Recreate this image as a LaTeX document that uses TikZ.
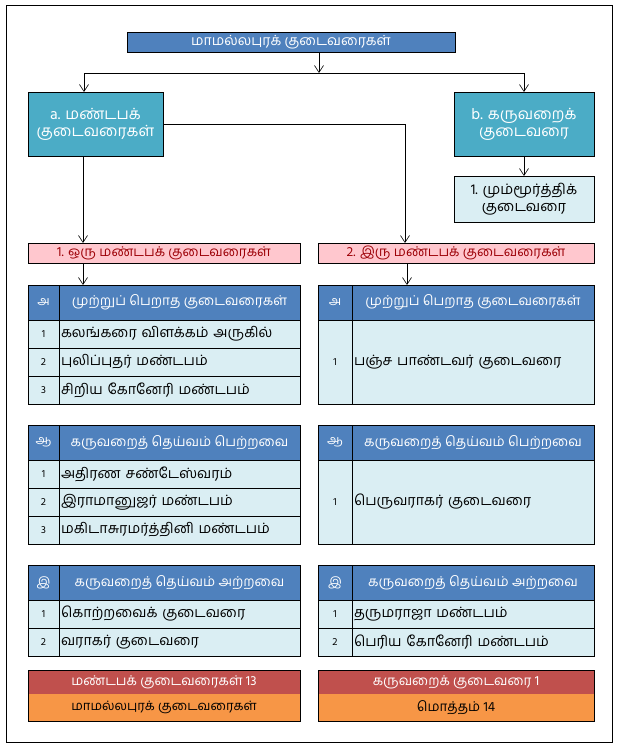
\documentclass[tikz,border=0pt]{standalone}
\usepackage{fontspec}
\setmainfont[Script=Tamil]{Hind Madurai}
\usetikzlibrary{arrows.meta}
\definecolor{hdr}{HTML}{4F81BD}
\definecolor{teal}{HTML}{4BACC6}
\definecolor{row}{HTML}{DAEEF3}
\definecolor{pinkf}{HTML}{FFC7CE}
\definecolor{pinkt}{HTML}{9C0006}
\definecolor{sumred}{HTML}{C0504D}
\definecolor{sumor}{HTML}{F79646}
\tikzset{
  cell/.style={draw=black,line width=0.8pt,inner xsep=4pt,inner ysep=0pt,outer sep=0pt,anchor=north west},
  arr/.style={-{Straight Barb[length=7pt,width=9pt]},line width=0.6pt},
  bodyfont/.style={font=\fontsize{14.3}{17}\selectfont},
  hdrfont/.style={font=\fontsize{13.6}{17}\selectfont},
  numfont/.style={font=\fontsize{10.5}{12}\selectfont},
  hnumfont/.style={font=\fontsize{12.5}{14}\selectfont},
}
% left-aligned cell: name, x, y, w, h, extra style, text
\newcommand\mycell[7]{%
  \pgfmathsetmacro\tw{#4-4}%
  \node[cell,inner xsep=2pt,align=left,text width=\tw pt,minimum height=#5pt,#6] (#1) at (#2,#3) {#7};}
% centred cell
\newcommand\mycellc[7]{%
  \node[cell,minimum width=#4pt,minimum height=#5pt,align=center,#6] (#1) at (#2,#3) {#7};}
\begin{document}
\begin{tikzpicture}[x=1pt,y=-1pt]
\useasboundingbox (0,0) rectangle (619,748);
\draw[line width=0.9pt] (6,5) rectangle (612,742);

% top boxes
\mycellc{title}{127}{32}{328}{20}{fill=hdr,text=white,font=\fontsize{14}{16}\selectfont}{மாமல்லபுரக் குடைவரைகள்}
\mycellc{a}{28}{92}{135}{64}{fill=teal,text=white,font=\fontsize{15.5}{17}\selectfont}{a. மண்டபக்\\குடைவரைகள்}
\mycellc{b}{454}{92}{140}{64}{fill=teal,text=white,font=\fontsize{15.5}{17}\selectfont}{b. கருவறைக்\\குடைவரை}
\mycellc{mum}{454}{176}{140}{46}{fill=row,font=\fontsize{14.5}{17}\selectfont}{1. மும்மூர்த்திக்\\குடைவரை}
\mycellc{p1}{28}{243}{272}{20}{fill=pinkf,text=pinkt,font=\fontsize{13.5}{15}\selectfont}{1. ஒரு மண்டபக் குடைவரைகள்}
\mycellc{p2}{318}{243}{276}{20}{fill=pinkf,text=pinkt,font=\fontsize{13.5}{15}\selectfont}{2. இரு மண்டபக் குடைவரைகள்}

% table 1 left
\mycellc{lAh}{28}{285}{31}{35}{fill=hdr,text=white,hnumfont}{அ}
\mycellc{lAt}{59}{285}{241}{35}{fill=hdr,text=white,hdrfont}{முற்றுப் பெறாத குடைவரைகள்}
\mycellc{lA1n}{28}{320}{31}{28}{fill=row,numfont}{1}
\mycell{lA1}{59}{320}{241}{28}{fill=row,bodyfont}{கலங்கரை விளக்கம் அருகில்}
\mycellc{lA2n}{28}{348}{31}{28}{fill=row,numfont}{2}
\mycell{lA2}{59}{348}{241}{28}{fill=row,bodyfont}{புலிப்புதர் மண்டபம்}
\mycellc{lA3n}{28}{376}{31}{28}{fill=row,numfont}{3}
\mycell{lA3}{59}{376}{241}{28}{fill=row,bodyfont}{சிறிய கோனேரி மண்டபம்}

% table 1 right
\mycellc{rAh}{318}{285}{34}{35}{fill=hdr,text=white,hnumfont}{அ}
\mycellc{rAt}{352}{285}{242}{35}{fill=hdr,text=white,hdrfont}{முற்றுப் பெறாத குடைவரைகள்}
\mycellc{rA1n}{318}{320}{34}{84}{fill=row,numfont}{1}
\mycell{rA1}{352}{320}{242}{84}{fill=row,bodyfont}{பஞ்ச பாண்டவர் குடைவரை}

% table 2 left
\mycellc{lBh}{28}{425}{31}{35}{fill=hdr,text=white,hnumfont}{ஆ}
\mycellc{lBt}{59}{425}{241}{35}{fill=hdr,text=white,hdrfont}{கருவறைத் தெய்வம் பெற்றவை}
\mycellc{lB1n}{28}{460}{31}{28}{fill=row,numfont}{1}
\mycell{lB1}{59}{460}{241}{28}{fill=row,bodyfont}{அதிரண சண்டேஸ்வரம்}
\mycellc{lB2n}{28}{488}{31}{28}{fill=row,numfont}{2}
\mycell{lB2}{59}{488}{241}{28}{fill=row,bodyfont}{இராமானுஜர் மண்டபம்}
\mycellc{lB3n}{28}{516}{31}{28}{fill=row,numfont}{3}
\mycell{lB3}{59}{516}{241}{28}{fill=row,bodyfont}{மகிடாசுரமர்த்தினி மண்டபம்}

% table 2 right
\mycellc{rBh}{318}{425}{34}{35}{fill=hdr,text=white,hnumfont}{ஆ}
\mycellc{rBt}{352}{425}{242}{35}{fill=hdr,text=white,hdrfont}{கருவறைத் தெய்வம் பெற்றவை}
\mycellc{rB1n}{318}{460}{34}{84}{fill=row,numfont}{1}
\mycell{rB1}{352}{460}{242}{84}{fill=row,bodyfont}{பெருவராகர் குடைவரை}

% table 3 left
\mycellc{lCh}{28}{565}{31}{35}{fill=hdr,text=white,hnumfont}{இ}
\mycellc{lCt}{59}{565}{241}{35}{fill=hdr,text=white,hdrfont}{கருவறைத் தெய்வம் அற்றவை}
\mycellc{lC1n}{28}{600}{31}{28}{fill=row,numfont}{1}
\mycell{lC1}{59}{600}{241}{28}{fill=row,bodyfont}{கொற்றவைக் குடைவரை}
\mycellc{lC2n}{28}{628}{31}{28}{fill=row,numfont}{2}
\mycell{lC2}{59}{628}{241}{28}{fill=row,bodyfont}{வராகர் குடைவரை}

% table 3 right
\mycellc{rCh}{318}{565}{34}{35}{fill=hdr,text=white,hnumfont}{இ}
\mycellc{rCt}{352}{565}{242}{35}{fill=hdr,text=white,hdrfont}{கருவறைத் தெய்வம் அற்றவை}
\mycellc{rC1n}{318}{600}{34}{28}{fill=row,numfont}{1}
\mycell{rC1}{352}{600}{242}{28}{fill=row,bodyfont}{தருமராஜா மண்டபம்}
\mycellc{rC2n}{318}{628}{34}{28}{fill=row,numfont}{2}
\mycell{rC2}{352}{628}{242}{28}{fill=row,bodyfont}{பெரிய கோனேரி மண்டபம்}

% summaries
\mycellc{sl1}{28}{670}{272}{24}{draw=none,fill=sumred,text=white,font=\fontsize{13.5}{15}\selectfont}{மண்டபக் குடைவரைகள் 13}
\mycellc{sl2}{28}{694}{272}{27}{draw=none,fill=sumor,font=\fontsize{13}{15}\selectfont}{மாமல்லபுரக் குடைவரைகள்}
\draw[line width=0.8pt] (sl1.north west) rectangle (sl2.south east);
\mycellc{sr1}{318}{670}{276}{24}{draw=none,fill=sumred,text=white,font=\fontsize{13.5}{15}\selectfont}{கருவறைக் குடைவரை 1}
\mycellc{sr2}{318}{694}{276}{27}{draw=none,fill=sumor,font=\fontsize{13.5}{15}\selectfont}{மொத்தம் 14}
\draw[line width=0.8pt] (sr1.north west) rectangle (sr2.south east);

% connectors
\coordinate (j) at (319,73);
\draw[arr] (title.south -| j) -- (j);
\draw[arr] (j) -| ([xshift=56pt]a.north west);
\draw[arr] (j) -| (b.north);
\draw[arr] (a.east) -| ([xshift=87pt]p2.north west);
\draw[arr] ([xshift=55pt]a.south west) -- ([xshift=55pt]a.south west |- p1.north);
\draw[arr] (b.south) -- (mum.north);
\draw[arr] ([xshift=55pt]p1.south west) -- ([xshift=55pt]p1.south west |- lAh.north);
\draw[arr] ([xshift=89pt]p2.south west) -- ([xshift=89pt]p2.south west |- rAh.north);
\end{tikzpicture}
\end{document}
